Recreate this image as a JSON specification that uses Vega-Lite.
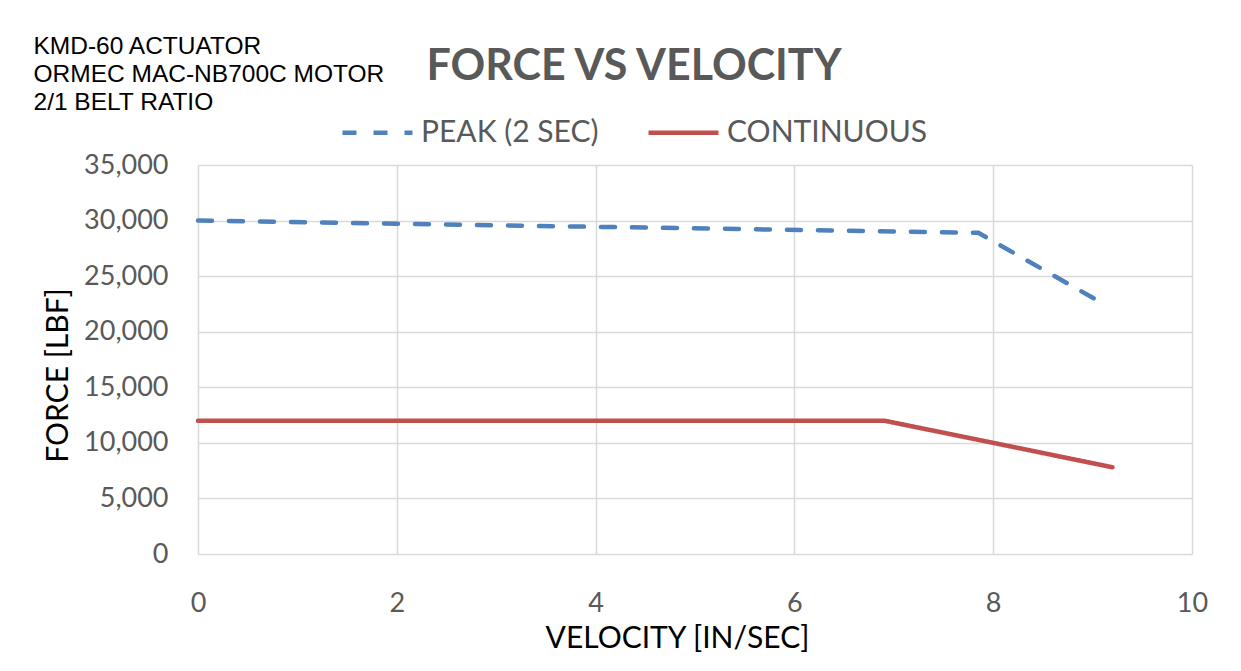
{
  "$schema": "https://vega.github.io/schema/vega-lite/v6.json",
  "width": 994,
  "height": 389,
  "autosize": {"type": "none"},
  "padding": {"left": 198, "top": 165, "right": 49, "bottom": 117},
  "background": "white",
  "title": {
    "text": "FORCE VS VELOCITY",
    "font": "Lato",
    "fontSize": 43,
    "fontWeight": "bold",
    "color": "#595959",
    "anchor": "middle",
    "frame": "group",
    "dx": -61,
    "dy": 66,
    "offset": 10
  },
  "config": {
    "view": {"stroke": null},
    "axis": {"gridColor": "#D9D9D9", "gridWidth": 1.5}
  },
  "data": {
    "values": [
      {"series": "PEAK (2 SEC)", "velocity": 0, "force": 30000},
      {"series": "PEAK (2 SEC)", "velocity": 7.85, "force": 28900},
      {"series": "PEAK (2 SEC)", "velocity": 9.15, "force": 22300},
      {"series": "CONTINUOUS", "velocity": 0, "force": 12000},
      {"series": "CONTINUOUS", "velocity": 6.9, "force": 12000},
      {"series": "CONTINUOUS", "velocity": 8, "force": 10000},
      {"series": "CONTINUOUS", "velocity": 9.2, "force": 7800}
    ]
  },
  "encoding": {
    "y": {
      "field": "force",
      "type": "quantitative",
      "scale": {"domain": [0, 35000]},
      "axis": {
        "title": "FORCE [LBF]",
        "values": [0, 5000, 10000, 15000, 20000, 25000, 30000, 35000],
        "format": ",.0f",
        "domain": false,
        "ticks": false,
        "labelFlush": false,
        "labelFont": "Lato",
        "labelFontSize": 27,
        "labelColor": "#595959",
        "labelPadding": 30,
        "titleFont": "Lato",
        "titleFontSize": 30,
        "titleFontWeight": "normal",
        "titleColor": "#000000",
        "titlePadding": 10,
        "titleY": 210
      }
    }
  },
  "layer": [
    {
      "mark": {"type": "line", "strokeWidth": 4.5, "strokeCap": "round"},
      "encoding": {
        "x": {
          "field": "velocity",
          "type": "quantitative",
          "scale": {"domain": [0, 10]},
          "axis": {
            "title": "VELOCITY [IN/SEC]",
            "values": [0, 2, 4, 6, 8, 10],
            "domain": false,
            "ticks": false,
            "labelFlush": false,
            "labelFont": "Lato",
            "labelFontSize": 27,
            "labelColor": "#595959",
            "labelPadding": 36,
            "titleFont": "Lato",
            "titleFontSize": 30,
            "titleFontWeight": "normal",
            "titleColor": "#000000",
            "titlePadding": 7,
            "titleX": 479
          }
        },
        "color": {
          "field": "series",
          "type": "nominal",
          "scale": {"domain": ["PEAK (2 SEC)", "CONTINUOUS"], "range": ["#4F81BD", "#C0504D"]},
          "legend": {
            "orient": "none",
            "legendX": 142,
            "legendY": -70,
            "direction": "horizontal",
            "title": null,
            "labelFont": "Lato",
            "labelFontSize": 30,
            "labelColor": "#595959",
            "labelLimit": 500,
            "symbolType": "stroke",
            "symbolSize": 4900,
            "symbolStrokeWidth": 4.5,
            "labelOffset": 6,
            "columnPadding": 40
          }
        },
        "strokeDash": {
          "field": "series",
          "type": "nominal",
          "scale": {"domain": ["PEAK (2 SEC)", "CONTINUOUS"], "range": [[14, 17], [1, 0]]},
          "legend": {
            "orient": "none",
            "legendX": 142,
            "legendY": -70,
            "direction": "horizontal",
            "title": null,
            "labelFont": "Lato",
            "labelFontSize": 30,
            "labelColor": "#595959",
            "labelLimit": 500,
            "symbolType": "stroke",
            "symbolSize": 4900,
            "symbolStrokeWidth": 4.5,
            "labelOffset": 6,
            "columnPadding": 40
          }
        }
      }
    },
    {
      "mark": {"type": "line", "opacity": 0},
      "encoding": {
        "x": {
          "field": "velocity",
          "type": "quantitative",
          "scale": {"domain": [0, 10]},
          "axis": {
            "orient": "top",
            "title": ["KMD-60 ACTUATOR", "ORMEC MAC-NB700C MOTOR", "2/1 BELT RATIO"],
            "labels": false,
            "ticks": false,
            "domain": false,
            "grid": false,
            "titleX": -165,
            "titleY": -112,
            "titleAlign": "left",
            "titleAnchor": "start",
            "titleAngle": 0,
            "titleBaseline": "alphabetic",
            "titleFont": "Liberation Sans",
            "titleFontSize": 24.5,
            "titleFontWeight": "normal",
            "titleColor": "#000000",
            "titleLineHeight": 28
          }
        },
        "detail": {"field": "series", "type": "nominal"}
      }
    }
  ],
  "resolve": {"axis": {"x": "independent"}}
}
